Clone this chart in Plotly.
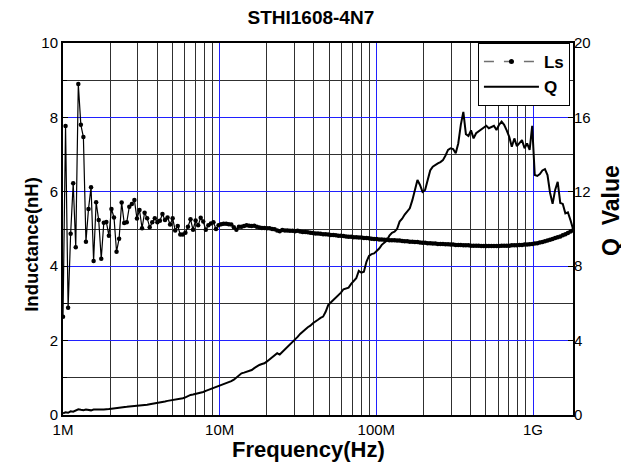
import numpy as np
import plotly.graph_objects as go

# Sweep definition (impedance analyser log sweep)
START_HZ = 1e6
STOP_HZ = 1.8e9
N_POINTS = 201
freq_hz = np.logspace(np.log10(START_HZ), np.log10(STOP_HZ), N_POINTS)

# Inductance Ls (nH)
ls_nh = [
    2.64, 7.77, 2.88, 4.87, 6.23, 4.51, 8.90, 7.80, 7.47, 4.66,
    5.54, 6.12, 4.14, 5.72, 5.24, 4.20, 5.17, 5.19, 4.82, 5.54,
    5.31, 4.39, 4.74, 5.71, 5.16, 5.18, 5.60, 5.67, 5.78, 5.28,
    5.51, 5.02, 5.44, 5.29, 5.05, 5.18, 5.29, 5.18, 5.22, 5.40,
    5.24, 5.31, 5.12, 5.29, 4.96, 5.08, 4.85, 4.85, 4.90, 5.06,
    5.26, 4.98, 5.23, 5.10, 5.30, 5.20, 4.98, 5.10, 5.15, 5.18,
    5.00, 5.10, 5.13, 5.14, 5.14, 5.13, 5.12, 5.05, 4.98, 5.06,
    5.06, 5.08, 5.10, 5.09, 5.08, 5.09, 5.06, 5.04, 5.03, 5.03,
    5.02, 5.02, 5.00, 4.99, 4.96, 4.94, 4.97, 4.96, 4.96, 4.95,
    4.95, 4.94, 4.95, 4.93, 4.92, 4.92, 4.91, 4.90, 4.89, 4.88,
    4.88, 4.87, 4.86, 4.86, 4.85, 4.84, 4.84, 4.83, 4.82, 4.82,
    4.81, 4.80, 4.79, 4.79, 4.78, 4.78, 4.77, 4.77, 4.76, 4.76,
    4.75, 4.74, 4.73, 4.73, 4.72, 4.72, 4.71, 4.71, 4.70, 4.70,
    4.70, 4.69, 4.69, 4.68, 4.67, 4.67, 4.66, 4.66, 4.65, 4.65,
    4.64, 4.63, 4.63, 4.62, 4.62, 4.61, 4.61, 4.60, 4.60, 4.60,
    4.59, 4.59, 4.58, 4.58, 4.57, 4.57, 4.57, 4.56, 4.56, 4.56,
    4.55, 4.55, 4.55, 4.55, 4.54, 4.54, 4.54, 4.54, 4.54, 4.54,
    4.54, 4.54, 4.55, 4.55, 4.55, 4.55, 4.56, 4.56, 4.56, 4.57,
    4.57, 4.58, 4.58, 4.59, 4.60, 4.61, 4.62, 4.64, 4.65, 4.67,
    4.69, 4.71, 4.73, 4.76, 4.78, 4.80, 4.83, 4.86, 4.89, 4.93,
    4.96,
]

# Quality factor Q
q_value = [
    0.09, 0.15, 0.12, 0.20, 0.18, 0.25, 0.31, 0.28, 0.26, 0.30,
    0.27, 0.25, 0.29, 0.28, 0.31, 0.29, 0.30, 0.33, 0.32, 0.34,
    0.35, 0.37, 0.40, 0.39, 0.42, 0.44, 0.46, 0.47, 0.48, 0.50,
    0.51, 0.53, 0.55, 0.55, 0.58, 0.60, 0.62, 0.66, 0.68, 0.70,
    0.73, 0.76, 0.78, 0.79, 0.80, 0.83, 0.86, 0.90, 0.95, 1.02,
    1.08, 1.10, 1.13, 1.16, 1.19, 1.24, 1.30, 1.35, 1.40, 1.44,
    1.48, 1.53, 1.58, 1.63, 1.70, 1.75, 1.82, 1.90, 2.02, 2.15,
    2.24, 2.28, 2.33, 2.38, 2.42, 2.52, 2.62, 2.69, 2.74, 2.78,
    2.88, 3.00, 3.12, 3.25, 3.32, 3.25, 3.38, 3.52, 3.65, 3.80,
    3.94, 4.06, 4.20, 4.36, 4.50, 4.60, 4.72, 4.80, 4.93, 5.05,
    5.12, 5.22, 5.29, 5.55, 5.91, 6.05, 6.18, 6.30, 6.42, 6.58,
    6.76, 6.81, 6.85, 7.05, 7.20, 7.35, 7.75, 7.65, 7.70, 8.24,
    8.55, 8.65, 8.69, 8.80, 8.95, 9.15, 9.28, 9.38, 9.65, 9.80,
    9.86, 10.00, 10.40, 10.55, 10.78, 10.95, 11.11, 11.55, 12.10, 12.63,
    12.37, 12.00, 12.10, 12.60, 13.15, 13.35, 13.45, 13.53, 13.60, 13.70,
    13.95, 14.25, 14.34, 14.30, 14.07, 14.60, 15.60, 16.30, 15.10, 15.00,
    15.30, 14.87, 15.15, 15.25, 15.35, 15.45, 15.55, 15.42, 15.50, 15.55,
    15.32, 15.60, 15.77, 15.60, 15.30, 14.95, 14.42, 14.87, 14.45, 14.60,
    14.78, 14.34, 14.60, 14.25, 15.55, 12.90, 12.85, 12.95, 13.15, 13.22,
    12.90, 11.95, 11.35, 12.10, 12.54, 11.40, 11.35, 10.84, 10.90, 10.48,
    10.00,
]

# Axis tick labels
x_major_vals = [1e6, 1e7, 1e8, 1e9]
x_major_text = ["1M", "10M", "100M", "1G"]
x_minor_vals = [m * d for d in [1e6, 1e7, 1e8] for m in range(2, 10)]
y_left_ticks = [0, 2, 4, 6, 8, 10]
y_right_ticks = [0, 4, 8, 12, 16, 20]

FONT = "Liberation Sans, Arial, sans-serif"
BLUE = "#2020ff"
GRAY = "#303030"

fig = go.Figure()
# legend sample for Ls (dash - dot - dash), carries no data
fig.add_trace(go.Scatter(
    x=[None], y=[None], name="<b>Ls</b>", mode="lines+markers",
    line=dict(color="#707070", width=1.5, dash="10px,10px"),
    marker=dict(color="black", size=5),
    yaxis="y",
))
fig.add_trace(go.Scatter(
    x=freq_hz, y=ls_nh, name="Ls", mode="lines+markers",
    line=dict(color="black", width=1.2),
    marker=dict(color="black", size=4.5),
    yaxis="y", showlegend=False,
))
fig.add_trace(go.Scatter(
    x=freq_hz, y=q_value, name="<b>Q</b>", mode="lines",
    line=dict(color="black", width=2),
    yaxis="y2",
))

# The page body adds an 8 px margin, so the figure is 8 px smaller on each side
fig.update_layout(
    width=621, height=455,
    margin=dict(l=55, r=56, t=35, b=48, autoexpand=False),
    paper_bgcolor="white", plot_bgcolor="white",
    font=dict(family=FONT, color="black", size=14),
    title=dict(text="<b>STHI1608-4N7</b>", xref="paper", x=0.486, xanchor="center",
               y=0.98, yanchor="middle", font=dict(size=19, family=FONT)),
    showlegend=True,
    legend=dict(x=0.994, y=1.0, xanchor="right", yanchor="top",
                bgcolor="white", bordercolor="black", borderwidth=1,
                font=dict(size=17, family=FONT, color="black"),
                itemwidth=55, tracegroupgap=0, traceorder="normal"),
    xaxis=dict(
        type="log", range=[np.log10(START_HZ), np.log10(STOP_HZ)],
        tickmode="array", tickvals=x_major_vals, ticktext=x_major_text,
        showgrid=True, gridcolor=BLUE, gridwidth=1,
        minor=dict(tickmode="array", tickvals=x_minor_vals, showgrid=True,
                   gridcolor=GRAY, gridwidth=1, ticks=""),
        showline=True, linecolor="black", linewidth=2, mirror=True,
        ticks="", tickfont=dict(size=15, family=FONT),
        zeroline=False, automargin=False,
    ),
    yaxis=dict(
        range=[0, 10], tickmode="array", tickvals=y_left_ticks,
        showgrid=True, gridcolor=BLUE, gridwidth=1,
        minor=dict(dtick=1, showgrid=True, gridcolor=GRAY, gridwidth=1,
                   ticks="inside", ticklen=4, tickcolor="black"),
        showline=True, linecolor="black", linewidth=2, mirror=True,
        ticks="inside", ticklen=5, tickcolor="black",
        tickfont=dict(size=15, family=FONT),
        zeroline=False, automargin=False,
    ),
    yaxis2=dict(
        range=[0, 20], tickmode="array", tickvals=y_right_ticks,
        overlaying="y", side="right", showgrid=False,
        ticks="inside", ticklen=5, tickcolor="black",
        tickfont=dict(size=15, family=FONT),
        zeroline=False, showline=False, automargin=False,
    ),
    annotations=[
        dict(text="<b>Frequency(Hz)</b>", xref="paper", yref="paper",
             x=0.482, y=-0.094, xanchor="center", yanchor="middle",
             showarrow=False, font=dict(size=22, family=FONT)),
        dict(text="<b>Inductance(nH)</b>", xref="paper", yref="paper",
             x=-0.061, y=0.46, xanchor="center", yanchor="middle",
             textangle=-90, showarrow=False, font=dict(size=18.5, family=FONT)),
        dict(text="<b>Q  Value</b>", xref="paper", yref="paper",
             x=1.0745, y=0.551, xanchor="center", yanchor="middle",
             textangle=-90, showarrow=False, font=dict(size=23, family=FONT)),
    ],
)

fig.write_html("out.html")
